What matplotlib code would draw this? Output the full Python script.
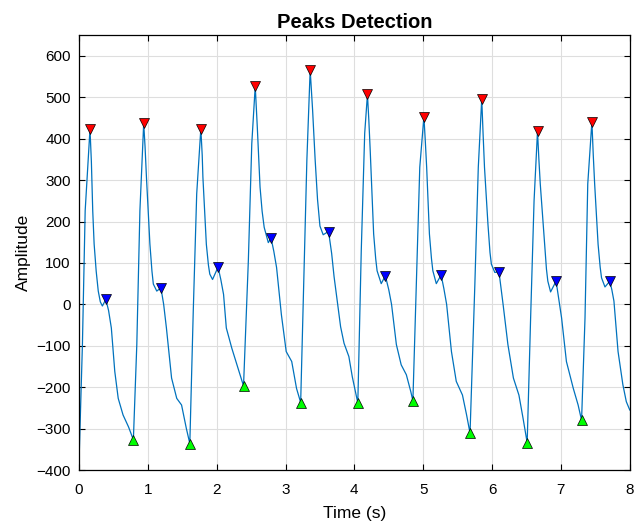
import numpy as np
import matplotlib
matplotlib.use("Agg")
import matplotlib.pyplot as plt

# signal (time in s, amplitude)
sig_t = [0.00, 0.05, 0.09, 0.16, 0.18, 0.20, 0.22, 0.25, 0.28, 0.31, 0.34, 0.39, 0.43, 0.47, 0.52, 0.57, 0.64, 0.72, 0.79,
         0.84, 0.885, 0.94, 0.96, 0.98, 1.03, 1.06, 1.08, 1.13, 1.19, 1.23, 1.27, 1.345, 1.42, 1.49, 1.56, 1.61,
         1.66, 1.71, 1.77, 1.79, 1.80, 1.85, 1.88, 1.90, 1.94, 2.02, 2.06, 2.10, 2.14, 2.22, 2.31, 2.39,
         2.46, 2.51, 2.56, 2.575, 2.59, 2.63, 2.66, 2.69, 2.75, 2.79, 2.83, 2.87, 2.94, 3.01, 3.09, 3.16, 3.22,
         3.26, 3.31, 3.358, 3.393, 3.43, 3.465, 3.50, 3.547, 3.625, 3.67, 3.705, 3.755, 3.80, 3.85, 3.92, 3.97, 4.05,
         4.10, 4.15, 4.19, 4.21, 4.23, 4.28, 4.31, 4.33, 4.39, 4.45, 4.50, 4.54, 4.61, 4.68, 4.755, 4.82, 4.85,
         4.90, 4.95, 5.01, 5.03, 5.05, 5.09, 5.12, 5.14, 5.19, 5.26, 5.30, 5.34, 5.41, 5.48, 5.57, 5.63, 5.68,
         5.75, 5.80, 5.85, 5.87, 5.89, 5.94, 5.97, 5.99, 6.04, 6.10, 6.13, 6.16, 6.23, 6.31, 6.39, 6.45, 6.51,
         6.56, 6.61, 6.66, 6.68, 6.70, 6.77, 6.79, 6.81, 6.85, 6.93, 6.97, 7.01, 7.08, 7.18, 7.25, 7.30,
         7.35, 7.39, 7.45, 7.47, 7.49, 7.54, 7.57, 7.59, 7.64, 7.71, 7.74, 7.77, 7.83, 7.90, 7.95, 8.00]
sig_y = [-385, -97, 226, 423, 345, 225, 146, 80, 32, 6, -4, 12, -15, -57, -162, -227, -267, -296, -327,
         -97, 226, 437, 380, 307, 146, 80, 49, 32, 40, 0, -57, -178, -227, -243, -300, -336,
         -16, 267, 424, 360, 307, 145, 95, 73, 60, 90, 60, 24, -57, -106, -154, -197,
         105, 388, 527, 480, 428, 283, 225, 186, 149, 160, 128, 89, -25, -114, -138, -203, -237,
         24, 348, 566, 470, 350, 253, 189, 168, 176, 123, 67, 3, -54, -94, -126, -175, -238,
         129, 413, 507, 445, 372, 170, 110, 81, 50, 69, 35, 0, -97, -146, -170, -211, -233,
         48, 331, 453, 395, 331, 170, 110, 81, 50, 71, 38, 0, -114, -186, -219, -267, -311,
         48, 331, 496, 410, 331, 194, 125, 97, 77, 79, 40, 0, -97, -178, -219, -275, -334,
         -33, 250, 418, 350, 291, 129, 85, 56, 30, 56, 12, -33, -138, -203, -243, -280,
         -33, 291, 441, 360, 291, 145, 90, 64, 42, 56, 35, 8, -114, -194, -235, -255]

# detected systolic peaks
peak_t = [0.16, 0.94, 1.77, 2.56, 3.36, 4.19, 5.01, 5.85, 6.66, 7.45]
peak_y = [423, 437, 424, 527, 566, 507, 453, 496, 418, 441]

# secondary (dicrotic) peaks
sec_t = [0.39, 1.19, 2.02, 2.79, 3.63, 4.45, 5.26, 6.10, 6.93, 7.71]
sec_y = [12, 40, 90, 160, 174, 69, 71, 79, 56, 56]

# troughs
low_t = [0.79, 1.61, 2.39, 3.22, 4.05, 4.85, 5.68, 6.51, 7.30]
low_y = [-327, -336, -197, -237, -238, -233, -311, -334, -280]

plt.rcParams['font.family'] = ['Liberation Sans', 'DejaVu Sans']

fig = plt.figure(figsize=(6.4, 5.24), dpi=100)
ax = fig.add_axes([0.1234, 0.103, 0.8606, 0.830])

ax.plot(sig_t, sig_y, color='#0072BD', linewidth=0.9, zorder=2)
ax.plot(peak_t, peak_y, 'v', color='red', markeredgecolor='black',
        markeredgewidth=0.5, markersize=7.5, zorder=3)
ax.plot(sec_t, sec_y, 'v', color='blue', markeredgecolor='black',
        markeredgewidth=0.5, markersize=7.5, zorder=3)
ax.plot(low_t, low_y, '^', color='#00FF00', markeredgecolor='black',
        markeredgewidth=0.5, markersize=7.5, zorder=3)

ax.set_xlim(0, 8)
ax.set_ylim(-400, 650)
ax.set_xticks(np.arange(0, 9, 1))
ax.set_yticks(np.arange(-400, 601, 100))
ax.grid(True, color='#dedede', linewidth=0.8)
ax.set_axisbelow(True)
ax.tick_params(direction='in', top=True, right=True, labelsize=11, length=4,
               width=0.8)
ax.tick_params(axis='x', pad=9)
ax.tick_params(axis='y', pad=6)
for sp in ax.spines.values():
    sp.set_linewidth(0.9)

ax.set_title('Peaks Detection', fontsize=14.5, fontweight='bold', pad=5)
ax.set_xlabel('Time (s)', fontsize=12.5, labelpad=7)
ax.set_ylabel('Amplitude', fontsize=12.5, labelpad=4)

fig.savefig('out.png', dpi=100)
